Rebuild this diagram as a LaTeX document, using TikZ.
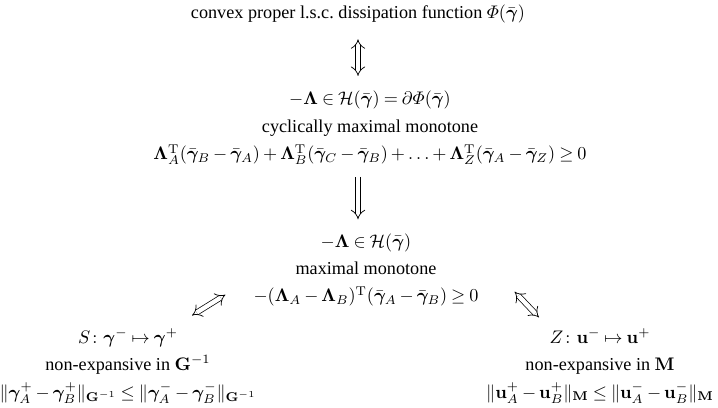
\documentclass[tikz,border=0pt]{standalone}
\usepackage{amsmath,bm}
\usepackage[no-math]{fontspec}
\setmainfont{Liberation Serif}
\usetikzlibrary{arrows.meta,calc}
\medmuskip=3mu plus 1mu minus 1mu
\thickmuskip=4mu plus 2mu
\tikzset{
  stmt/.style={align=center, inner sep=1pt, font=\fontsize{10}{15.1}\selectfont},
  dimp/.style={double, double distance=2.4pt, line width=0.4pt, {Implies}-{Implies}},
  simp/.style={double, double distance=2.4pt, line width=0.4pt, -{Implies}}
}
\newcommand{\gb}{\bar{\bm{\gamma}}}
\newcommand{\Lb}{\bm{\Lambda}}

\begin{document}
\begin{tikzpicture}[x=0.55pt, y=0.55pt]
    \useasboundingbox (0,0) rectangle (718,408);
    \node[stmt] (dissip) at (358,394) {convex proper l.s.c.\ dissipation function $\varPhi(\gb)$};
    \node[stmt] (cyclic) at (370,280) {$-\Lb \in \mathcal{H}(\gb) = \partial \varPhi(\gb)$\\
      cyclically maximal monotone\\
      $\Lb_A^{\mathrm{T}}(\gb_B-\gb_A)+\Lb_B^{\mathrm{T}}(\gb_C-\gb_B)+\ldots+\Lb_Z^{\mathrm{T}}(\gb_A-\gb_Z)\geq 0$};
    \node[stmt] (maxmon) at (366,138) {$-\Lb \in \mathcal{H}(\gb)$\\
      maximal monotone\\
      $-(\Lb_A-\Lb_B)^{\mathrm{T}}(\gb_A-\gb_B)\geq 0$};
    \node[stmt] (smap) at (128,42) {$S\colon \bm{\gamma}^- \mapsto \bm{\gamma}^+$\\
      non-expansive in $\mathbf{G}^{-1}$\\
      $\|\bm{\gamma}_A^+-\bm{\gamma}_B^+\|_{\mathbf{G}^{-1}}\leq\|\bm{\gamma}_A^--\bm{\gamma}_B^-\|_{\mathbf{G}^{-1}}$};
    \node[stmt, anchor=east] (zmap) at (716,42) {$Z\colon \mathbf{u}^- \mapsto \mathbf{u}^+$\\
      non-expansive in $\mathbf{M}$\\
      $\|\mathbf{u}_A^+-\mathbf{u}_B^+\|_{\mathbf{M}}\leq\|\mathbf{u}_A^--\mathbf{u}_B^-\|_{\mathbf{M}}$};
    \draw[dimp, shorten <=7.7pt, shorten >=7.2pt] (dissip.south) -- (dissip.south |- cyclic.north);
    \draw[simp, shorten <=5.5pt, shorten >=6.6pt] (cyclic.south -| dissip.south) -- (dissip.south |- maxmon.north);
    \draw[dimp] ($(maxmon.south west)+(-26,14)$) -- ($(smap.north)+(64,11)$);
    \draw[dimp] ($(maxmon.south east)+(34,17)$) -- ($(zmap.north)+(-61,9)$);
  \end{tikzpicture}
\end{document}
